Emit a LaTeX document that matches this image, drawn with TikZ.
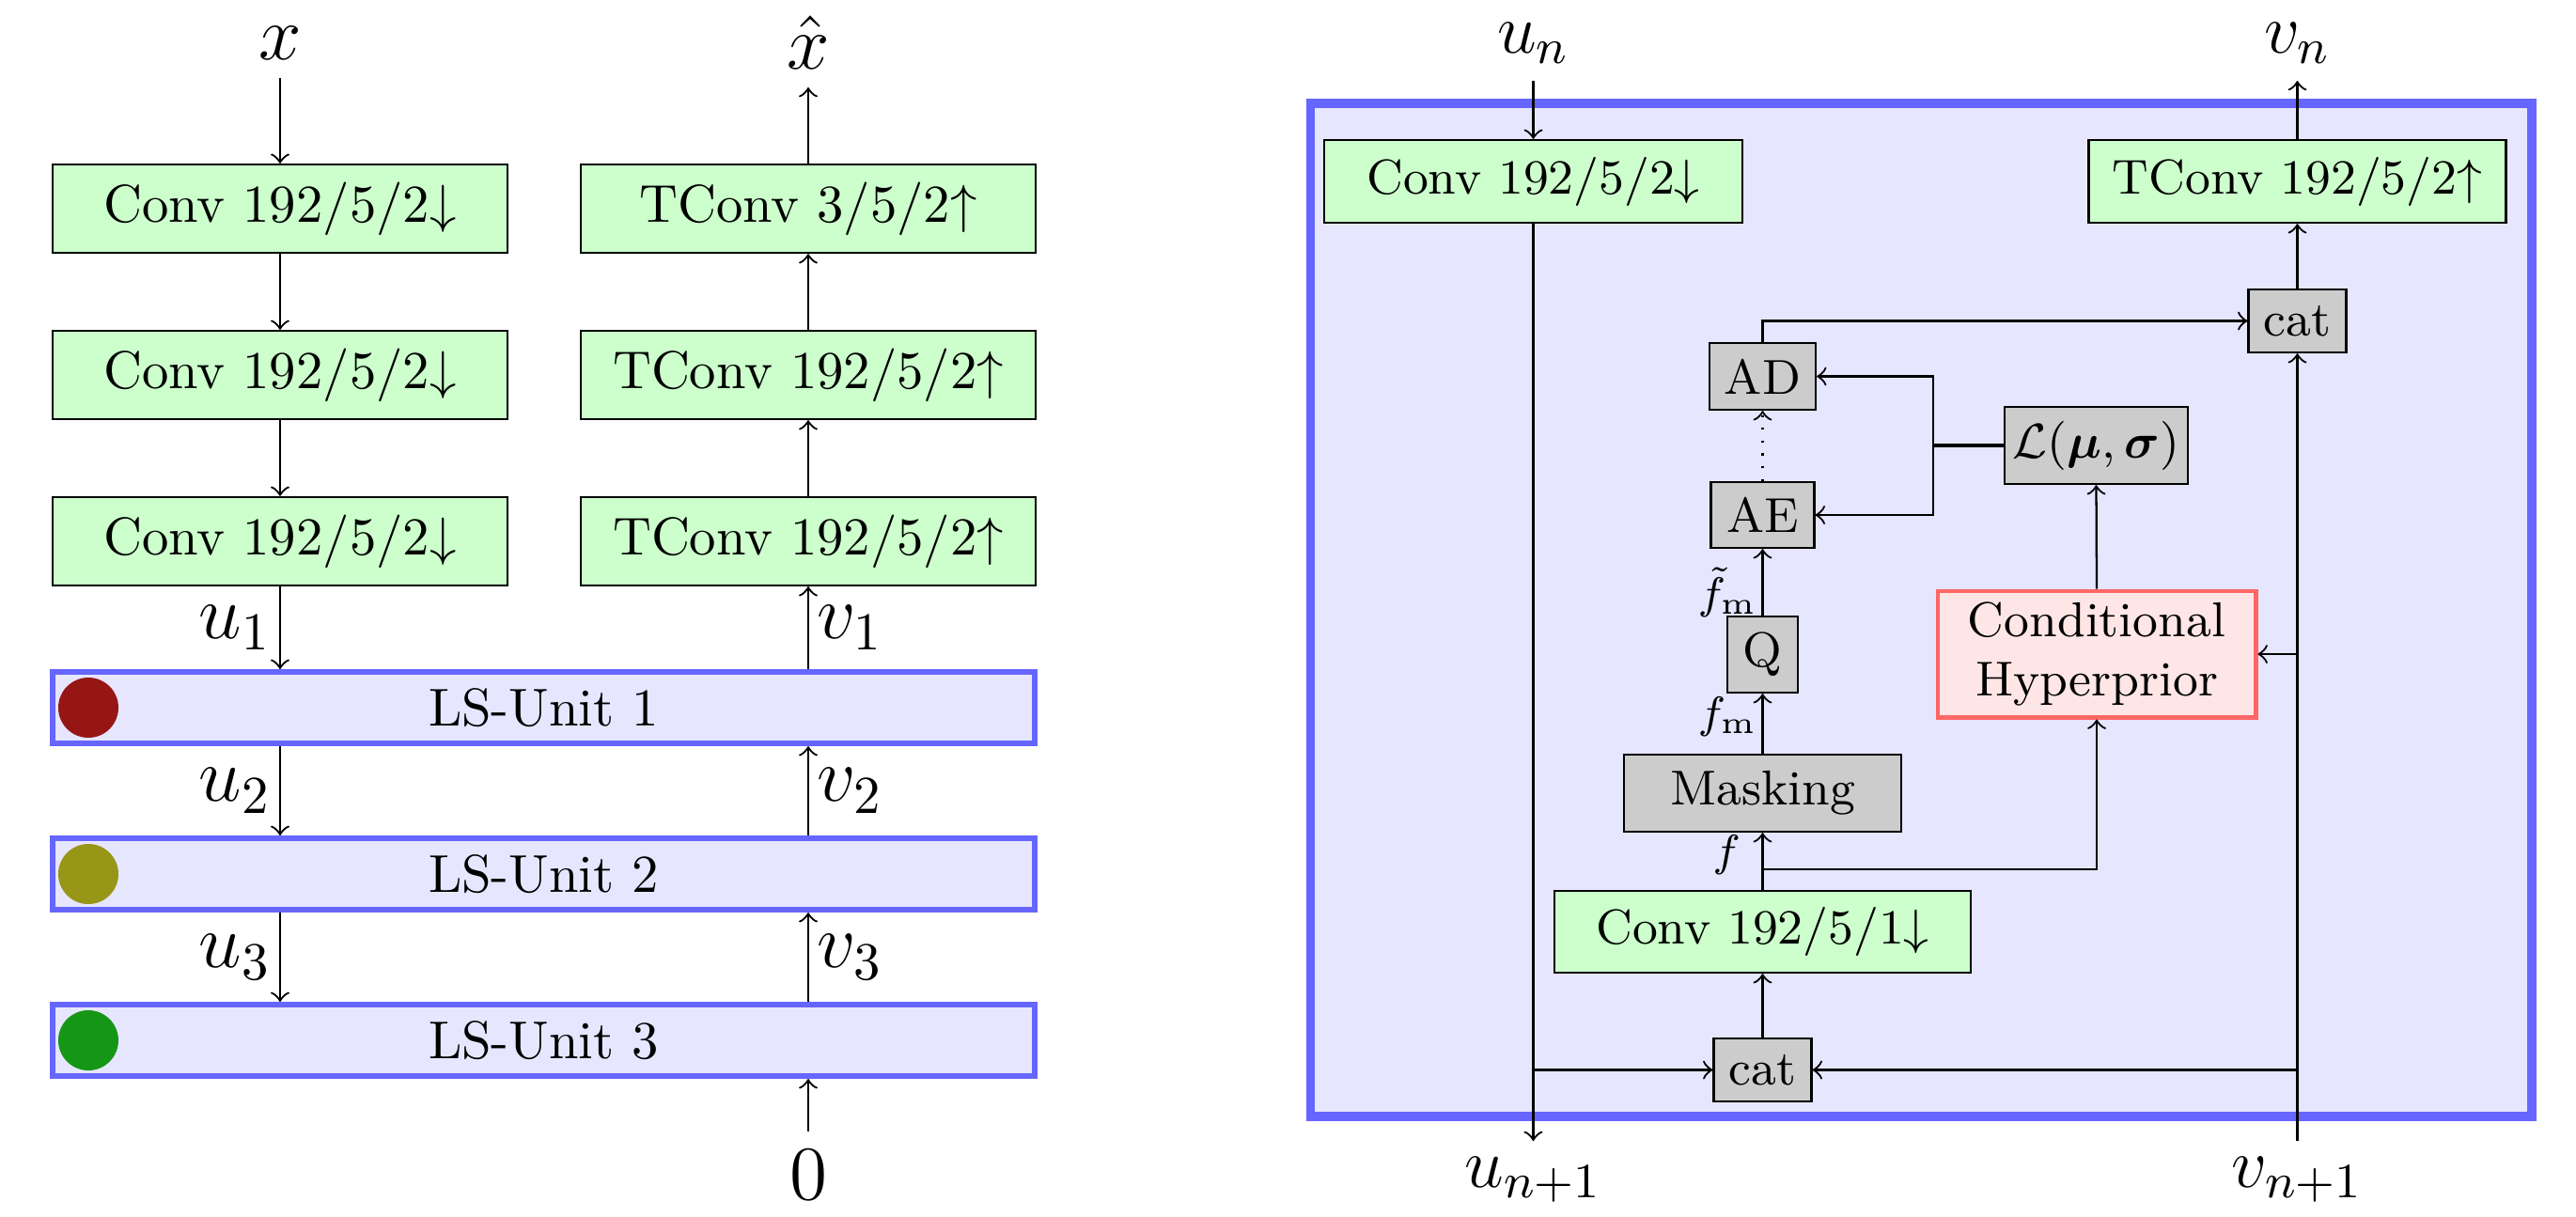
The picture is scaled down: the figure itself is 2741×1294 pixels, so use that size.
\RequirePackage{fix-cm}
\documentclass[tikz,border=0pt]{standalone}
\usepackage{amsmath,bm}
\newcommand{\pxu}{0.17637pt}
\newcommand{\rfont}{\fontsize{9.2}{11}\selectfont}
\definecolor{gfill}{RGB}{204,255,204}
\definecolor{gyfill}{RGB}{204,204,204}
\definecolor{lsfill}{RGB}{230,230,255}
\definecolor{lsline}{RGB}{102,102,255}
\definecolor{chfill}{RGB}{255,230,230}
\definecolor{chline}{RGB}{255,102,102}
\definecolor{dotred}{RGB}{150,22,22}
\definecolor{dotolive}{RGB}{152,150,22}
\definecolor{dotgreen}{RGB}{22,150,22}
\tikzset{
  boxbase/.style={draw, inner sep=0pt},
  gconv/.style={boxbase, fill=gfill, font=\fontsize{10}{12}\selectfont, minimum width=484*\pxu, minimum height=94*\pxu},
  gconvr/.style={boxbase, fill=gfill, font=\rfont, minimum width=445*\pxu, minimum height=88*\pxu},
  gbox/.style={boxbase, fill=gyfill, font=\rfont},
  lsbox/.style={draw=lsline, fill=lsfill, line width=1pt, inner sep=0pt, minimum width=1045*\pxu, minimum height=76.5*\pxu, font=\fontsize{10}{12}\selectfont},
  dotnode/.style={circle, inner sep=0pt, minimum size=64*\pxu},
  chbox/.style={draw=chline, fill=chfill, line width=0.8pt, inner sep=0pt, align=center, minimum width=338.5*\pxu, minimum height=134.5*\pxu, font=\rfont},
  frame/.style={draw=lsline, fill=lsfill, line width=1.7pt, inner sep=0pt},
  lblbig/.style={inner sep=0pt, font=\fontsize{14.4}{17}\selectfont},
  lblmid/.style={inner sep=0pt, font=\fontsize{13.2}{16}\selectfont},
  lblside/.style={inner sep=1.5pt, font=\fontsize{14.4}{17}\selectfont},
  lblsmall/.style={inner sep=0pt, font=\fontsize{8.3}{10}\selectfont},
}
\begin{document}
\begin{tikzpicture}[x=0.17637pt, y=-0.17637pt, >=to, line width=0.4pt]
\useasboundingbox (0,0) rectangle (2741,1294);

% ---------------- left part ----------------
\node[lblbig] (xin) at (298,45.5) {$x$};
\node[lblbig] (xout) at (860,45.5) {$\hat{x}$};
\coordinate (xa) at (298,83);
\coordinate (xb) at (860,93);

\node[gconv] (c1) at (298,222) {Conv 192/5/2$\downarrow$};
\node[gconv] (c2) at (298,399) {Conv 192/5/2$\downarrow$};
\node[gconv] (c3) at (298,576) {Conv 192/5/2$\downarrow$};
\node[gconv] (t1) at (860,222) {TConv 3/5/2$\uparrow$};
\node[gconv] (t2) at (860,399) {TConv 192/5/2$\uparrow$};
\node[gconv] (t3) at (860,576) {TConv 192/5/2$\uparrow$};

\node[lsbox] (ls1) at (578.5,753) {LS-Unit 1};
\node[lsbox] (ls2) at (578.5,930) {LS-Unit 2};
\node[lsbox] (ls3) at (578.5,1107) {LS-Unit 3};
\node[dotnode, fill=dotred] (d1) at (94,753) {};
\node[dotnode, fill=dotolive] (d2) at (94,930) {};
\node[dotnode, fill=dotgreen] (d3) at (94,1107) {};

\node[lblbig] (zero) at (860,1250) {$0$};
\coordinate (za) at (860,1204);

\draw[->] (xa) -- (c1.north);
\draw[->] (c1.south) -- (c2.north);
\draw[->] (c2.south) -- (c3.north);
\draw[->] (t3.north) -- (t2.south);
\draw[->] (t2.north) -- (t1.south);
\draw[->] (t1.north) -- (xb);

\draw[->] (c3.south) -- node[lblside, left] {$u_1$} (c3.south |- ls1.north);
\draw[->] (c3.south |- ls1.south) -- node[lblside, left] {$u_2$} (c3.south |- ls2.north);
\draw[->] (c3.south |- ls2.south) -- node[lblside, left] {$u_3$} (c3.south |- ls3.north);
\draw[->] (t3.south |- ls1.north) -- node[lblside, right] {$v_1$} (t3.south);
\draw[->] (t3.south |- ls2.north) -- node[lblside, right] {$v_2$} (t3.south |- ls1.south);
\draw[->] (t3.south |- ls3.north) -- node[lblside, right] {$v_3$} (t3.south |- ls2.south);
\draw[->] (za) -- (t3.south |- ls3.south);

% ---------------- right part ----------------
\node[frame, minimum width=1299.5*\pxu, minimum height=1078*\pxu] (fr) at (2044.25,649) {};

\node[lblmid] (un) at (1631.5,46) {$u_n$};
\node[lblmid] (vn) at (2444.5,46) {$v_n$};
\node[lblmid] (un1) at (1631.5,1255) {$u_{n+1}$};
\node[lblmid] (vn1) at (2444.5,1255) {$v_{n+1}$};
\coordinate (unA) at (1631.5,86);
\coordinate (unB) at (1631.5,1214);
\coordinate (vnA) at (2444.5,86);
\coordinate (vnB) at (2444.5,1214);

\node[gconvr] (rc) at (1631.5,193) {Conv 192/5/2$\downarrow$};
\node[gconvr, minimum width=444*\pxu] (rt) at (2444.5,193) {TConv 192/5/2$\uparrow$};
\node[gbox, minimum width=104*\pxu, minimum height=67*\pxu] (cat1) at (2444.5,341.5) {cat};
\node[gbox, minimum width=113*\pxu, minimum height=71*\pxu] (ad) at (1875.5,400.5) {AD};
\node[gbox, minimum width=110*\pxu, minimum height=70*\pxu] (ae) at (1875.5,548) {AE};
\node[gbox, minimum width=195*\pxu, minimum height=82*\pxu] (lk) at (2230.5,474) {$\mathcal{L}(\bm{\mu},\bm{\sigma})$};
\node[chbox] (ch) at (2231,696) {Conditional\\Hyperprior};
\node[gbox, minimum width=75*\pxu, minimum height=81*\pxu] (q) at (1875.5,696.5) {Q};
\node[gbox, minimum width=295*\pxu, minimum height=82*\pxu] (mask) at (1875.5,844) {Masking};
\node[gconvr, minimum width=443*\pxu, minimum height=87*\pxu] (rc1) at (1875.5,991.5) {Conv 192/5/1$\downarrow$};
\node[gbox, minimum width=104*\pxu, minimum height=67*\pxu] (cat2) at (1875.5,1138.5) {cat};

\coordinate (jn) at (2057,474);
\coordinate (fb) at (1875.5,925);

\draw[->] (unA) -- (rc.north);
\draw[->] (rc.south) -- (unB);
\draw[->] (rc.south |- cat2.west) -- (cat2.west);
\draw[->] (rt.north) -- (vnA);
\draw[->] (cat1.north) -- (rt.south);
\draw[->] (vnB) -- (cat1.south);
\draw[->] (vnB |- ch.east) -- (ch.east);
\draw[->] (vnB |- cat2.east) -- (cat2.east);
\draw[->] (ad.north) |- (cat1.west);
\draw[line width=0.6pt] (lk.west) -- (jn);
\draw[<->] (ad.east) -| (jn) |- (ae.east);
\draw[->] (ch.north) -- (lk.south);
\draw[->, dotted] (ae.north) -- (ad.south);
\draw[->] (q.north) -- (ae.south);
\draw[->] (mask.north) -- (q.south);
\draw[->] (rc1.north) -- (mask.south);
\draw[->] (fb) -| (ch.south);
\draw[->] (cat2.north) -- (rc1.south);

\node[lblsmall, anchor=east] (lfq) at (1871,630) {$\tilde{f}_{\mathrm{m}}$};
\node[lblsmall, anchor=east] (lfm) at (1871,763) {$f_{\mathrm{m}}$};
\node[lblsmall, anchor=east] (lf) at (1853,910) {$f$};
\end{tikzpicture}
\end{document}
